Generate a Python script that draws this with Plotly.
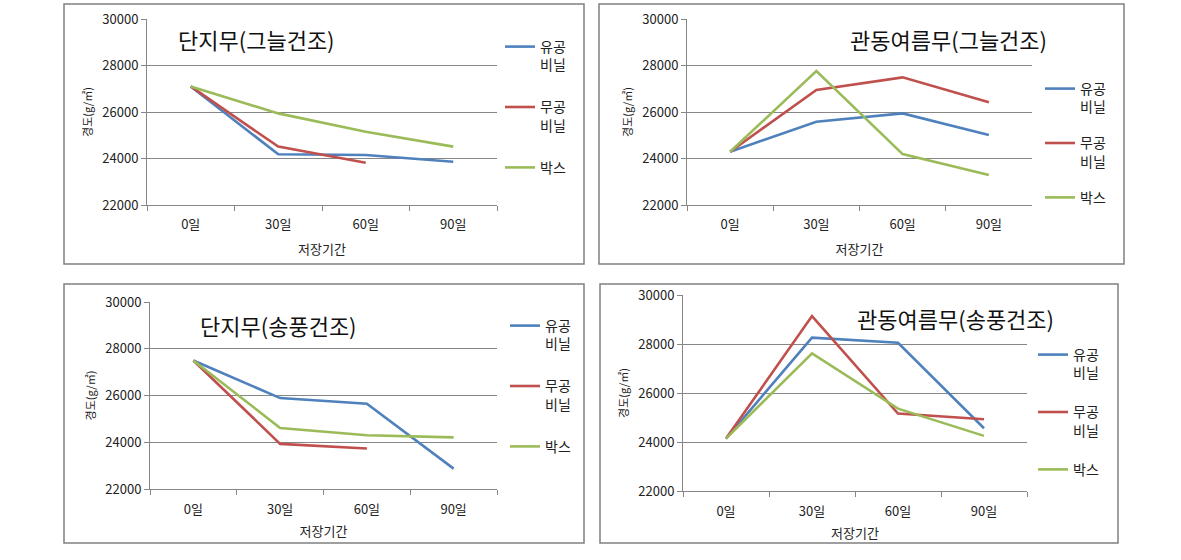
import plotly.graph_objects as go

W, H = 1181, 560
OFF = 0  # body margin removed via post_script

categories = ["0일", "30일", "60일", "90일"]
series_names = ["유공<br>비닐", "무공<br>비닐", "박스"]
series_colors = ["#4F81BD", "#C0504D", "#9BBB59"]

titles = ["단지무(그늘건조)", "관동여름무(그늘건조)", "단지무(송풍건조)", "관동여름무(송풍건조)"]

p1_perforated = [27100, 24180, 24150, 23860]
p1_plain = [27100, 24510, 23820, None]
p1_box = [27100, 25940, 25150, 24510]

p2_perforated = [24290, 25580, 25940, 25010]
p2_plain = [24290, 26950, 27490, 26420]
p2_box = [24290, 27760, 24190, 23290]

p3_perforated = [27500, 25890, 25650, 22870]
p3_plain = [27500, 23930, 23730, None]
p3_box = [27500, 24610, 24300, 24210]

p4_perforated = [24140, 28260, 28050, 24560]
p4_plain = [24140, 29140, 25160, 24930]
p4_box = [24140, 27620, 25360, 24250]

y_ticks = [22000, 24000, 26000, 28000, 30000]
x_title = "저장기간"
y_title = "경도(g/㎡)"

panels = [
    [p1_perforated, p1_plain, p1_box],
    [p2_perforated, p2_plain, p2_box],
    [p3_perforated, p3_plain, p3_box],
    [p4_perforated, p4_plain, p4_box],
]

# layout in (screen) pixels
plot_boxes = [(147, 497, 19, 205), (687, 1032, 19, 205), (150, 497, 302, 489), (683, 1027, 295, 491)]
frames = [(64, 4, 584, 264), (599, 4, 1124, 264), (64, 284, 584, 543), (600, 284, 1118, 543)]
title_pos = [(256, 39), (948, 39), (278, 325), (955, 318)]
legend_pos = [(500, 31), (1040, 73), (505, 310), (1033, 339)]
legend_gaps = [21, 15, 21, 18]
xlabel_standoff = [7, 7, 8, 8]
xtitle_standoff = [13, 13, 10, 10]


def px_x(v):
    return (v - OFF) / W


def px_y(v):
    return 1 - (v - OFF) / H


FONT = "Noto Sans CJK KR"
GRID = "#868686"

fig = go.Figure()
layout = dict(
    width=W, height=H,
    margin=dict(l=0, r=0, t=0, b=0, pad=0, autoexpand=False),
    paper_bgcolor="white", plot_bgcolor="white",
    font=dict(family=FONT, color="#333333", size=12),
    showlegend=True,
)

shapes = []
annotations = []

for i, data in enumerate(panels):
    k = "" if i == 0 else str(i + 1)
    lg = "legend" if i == 0 else f"legend{i+1}"
    for j, vals in enumerate(data):
        fig.add_trace(go.Scatter(
            x=categories, y=vals, mode="lines", name=series_names[j],
            line=dict(color=series_colors[j], width=2.6),
            xaxis="x" + k, yaxis="y" + k, legend=lg,
            legendgroup=f"g{i}_{j}",
            connectgaps=False,
        ))
    x0, x1, y0, y1 = plot_boxes[i]
    layout["xaxis" + k] = dict(
        domain=[px_x(x0), px_x(x1)], anchor="y" + k,
        type="category", categoryorder="array", categoryarray=categories,
        range=[-0.5, 3.5], tickson="boundaries", ticks="outside", ticklen=5,
        tickcolor=GRID, showline=True, linecolor=GRID, linewidth=1,
        showgrid=False, zeroline=False, automargin=False,
        ticklabelstandoff=xlabel_standoff[i],
        tickfont=dict(size=13, color="#222222", family=FONT),
        title=dict(text=x_title, font=dict(size=13, color="#222222", family=FONT),
                   standoff=xtitle_standoff[i]),
        fixedrange=True,
    )
    layout["yaxis" + k] = dict(
        domain=[px_y(y1), px_y(y0)], anchor="x" + k,
        range=[22000, 30000], tickvals=y_ticks, ticktext=[str(v) for v in y_ticks],
        ticks="outside", ticklen=5, tickcolor=GRID,
        showline=True, linecolor=GRID, linewidth=1,
        showgrid=True, gridcolor=GRID, gridwidth=1, zeroline=False, automargin=False,
        tickfont=dict(size=13, color="#222222", family=FONT),
        title=dict(text=y_title, font=dict(size=11, color="#222222", family=FONT), standoff=7),
        fixedrange=True,
    )
    lx, ly = legend_pos[i]
    layout[lg] = dict(
        x=px_x(lx), y=px_y(ly), xanchor="left", yanchor="top",
        xref="paper", yref="paper",
        font=dict(size=14, color="#222222", family=FONT),
        traceorder="grouped", tracegroupgap=legend_gaps[i],
        valign="top", itemwidth=30, bgcolor="rgba(0,0,0,0)",
    )
    fx0, fy0, fx1, fy1 = frames[i]
    shapes.append(dict(type="rect", xref="paper", yref="paper",
                       x0=px_x(fx0), x1=px_x(fx1), y0=px_y(fy0), y1=px_y(fy1),
                       line=dict(color="#808080", width=1.5), fillcolor="rgba(0,0,0,0)", layer="below"))
    tx, ty = title_pos[i]
    annotations.append(dict(text=titles[i], xref="paper", yref="paper", x=px_x(tx), y=px_y(ty),
                            xanchor="center", yanchor="middle", showarrow=False,
                            font=dict(size=22, color="#111111", family=FONT)))

layout["shapes"] = shapes
layout["annotations"] = annotations
fig.update_layout(**layout)
fig.write_html("out.html", config={"displayModeBar": False},
               post_script="document.body.style.margin='0px';")
